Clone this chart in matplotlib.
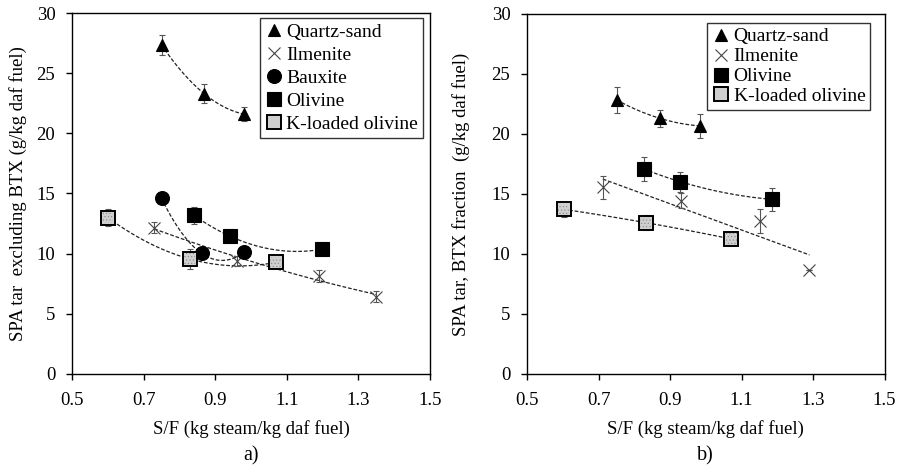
import numpy as np
import matplotlib
matplotlib.use("Agg")
import matplotlib.pyplot as plt

plt.rcParams['font.family'] = ['Liberation Serif', 'DejaVu Serif']
plt.rcParams['hatch.color'] = '#777777'
plt.rcParams['hatch.linewidth'] = 0.4

# ---- panel a) data ----
a_quartz_x = [0.75, 0.869, 0.98]
a_quartz_y = [27.35, 23.3, 21.6]
a_quartz_e = [0.85, 0.8, 0.6]

a_ilm_x = [0.73, 0.96, 1.19, 1.35]
a_ilm_y = [12.16, 9.4, 8.17, 6.43]
a_ilm_e = [0.45, 0.4, 0.5, 0.45]

a_baux_x = [0.75, 0.862, 0.98]
a_baux_y = [14.6, 10.03, 10.1]

a_oliv_x = [0.84, 0.94, 1.199]
a_oliv_y = [13.2, 11.47, 10.37]
a_oliv_e = [0.7, 0.3, 0.3]

a_kol_x = [0.60, 0.829, 1.069]
a_kol_y = [13.0, 9.56, 9.28]
a_kol_e = [0.72, 0.8, 0.3]

# ---- panel b) data ----
b_quartz_x = [0.751, 0.872, 0.984]
b_quartz_y = [22.83, 21.3, 20.67]
b_quartz_e = [1.1, 0.7, 1.0]

b_ilm_x = [0.712, 0.931, 1.152, 1.29]
b_ilm_y = [15.55, 14.44, 12.78, 8.67]
b_ilm_e = [0.97, 0.6, 1.0, 0.0]

b_oliv_x = [0.826, 0.928, 1.186]
b_oliv_y = [17.08, 16.03, 14.55]
b_oliv_e = [0.97, 0.83, 0.93]

b_kol_x = [0.602, 0.832, 1.071]
b_kol_y = [13.72, 12.61, 11.25]
b_kol_e = [0.6, 0.6, 0.5]

x_ticks = [0.5, 0.7, 0.9, 1.1, 1.3, 1.5]
y_ticks = [0, 5, 10, 15, 20, 25, 30]

fig = plt.figure(figsize=(8.98, 4.68), dpi=100)
axA = fig.add_axes([0.0802, 0.2009, 0.3986, 0.7713])
axB = fig.add_axes([0.5869, 0.2009, 0.3981, 0.7693])

styles = {
    'Quartz-sand': dict(marker='^', ms=9, mfc='black', mec='black', mew=0.8),
    'Ilmenite': dict(marker='x', ms=9, mfc='none', mec='#444444', mew=0.8),
    'Bauxite': dict(marker='o', ms=10, mfc='black', mec='black', mew=0.8),
    'Olivine': dict(marker='s', ms=9.5, mfc='black', mec='black', mew=0.8),
    'K-loaded olivine': dict(marker='s', ms=9.5, mfc='#cfcfcf', mec='black', mew=1.4),
}


def trend(ax, x, y, deg):
    x = np.asarray(x)
    p = np.polyfit(x, y, deg)
    xs = np.linspace(x.min(), x.max(), 100)
    ax.plot(xs, np.polyval(p, xs), ls=(0, (3, 1.5)), color='#222222', lw=0.9, zorder=2)


def series(ax, name, x, y, e=None, deg=2):
    trend(ax, x, y, deg)
    if e is not None:
        ax.errorbar(x, y, yerr=e, fmt='none', ecolor='#555555', elinewidth=0.8,
                    capsize=2.5, capthick=0.8, zorder=3)
    st = styles[name]
    h, = ax.plot(x, y, ls='none', label=name, zorder=4, **st)
    if name == 'K-loaded olivine':
        ax.scatter(x, y, marker='s', s=(st['ms'] - 1.5) ** 2, facecolor='none',
                   edgecolor='#888888', hatch='.....', linewidth=0, zorder=5)
    return h


series(axA, 'Quartz-sand', a_quartz_x, a_quartz_y, a_quartz_e)
series(axA, 'Ilmenite', a_ilm_x, a_ilm_y, a_ilm_e)
series(axA, 'Bauxite', a_baux_x, a_baux_y)
series(axA, 'Olivine', a_oliv_x, a_oliv_y, a_oliv_e)
series(axA, 'K-loaded olivine', a_kol_x, a_kol_y, a_kol_e)

series(axB, 'Quartz-sand', b_quartz_x, b_quartz_y, b_quartz_e)
series(axB, 'Ilmenite', b_ilm_x, b_ilm_y, b_ilm_e, deg=1)
series(axB, 'Olivine', b_oliv_x, b_oliv_y, b_oliv_e)
series(axB, 'K-loaded olivine', b_kol_x, b_kol_y, b_kol_e)

panels = [
    (axA, 'SPA tar  excluding BTX (g/kg daf fuel)', 'a)', -0.125, (0.980, 0.986), 0.28),
    (axB, 'SPA tar, BTX fraction  (g/kg daf fuel)', 'b)', -0.160, (0.960, 0.975), 0.12),
]
for ax, ylab, tag, ylx, anchor, lsp in panels:
    ax.set_xlim(0.5, 1.5)
    ax.set_ylim(0, 30)
    ax.set_xticks(x_ticks)
    ax.set_xticklabels([f'{t:.1f}' for t in x_ticks])
    ax.set_yticks(y_ticks)
    ax.tick_params(direction='out', length=4, width=1, labelsize=13.5)
    ax.tick_params(axis='x', pad=9)
    ax.tick_params(axis='y', pad=8)
    for s in ax.spines.values():
        s.set_linewidth(1.0)
    ax.set_xlabel('S/F (kg steam/kg daf fuel)', fontsize=13.5)
    ax.xaxis.set_label_coords(0.5, -0.128)
    ax.set_ylabel(ylab, fontsize=13.5)
    ax.yaxis.set_label_coords(ylx, 0.5)
    ax.text(0.5, -0.20, tag, transform=ax.transAxes, ha='center', va='top', fontsize=14.5)
    leg = ax.legend(loc='upper right', fontsize=14, frameon=True, fancybox=False,
                    edgecolor='black', borderpad=0.25, labelspacing=lsp,
                    handlelength=0.9, handletextpad=0.2, borderaxespad=0.0,
                    bbox_to_anchor=anchor)
    leg.get_frame().set_linewidth(1.0)

fig.savefig('out.png', dpi=100)
